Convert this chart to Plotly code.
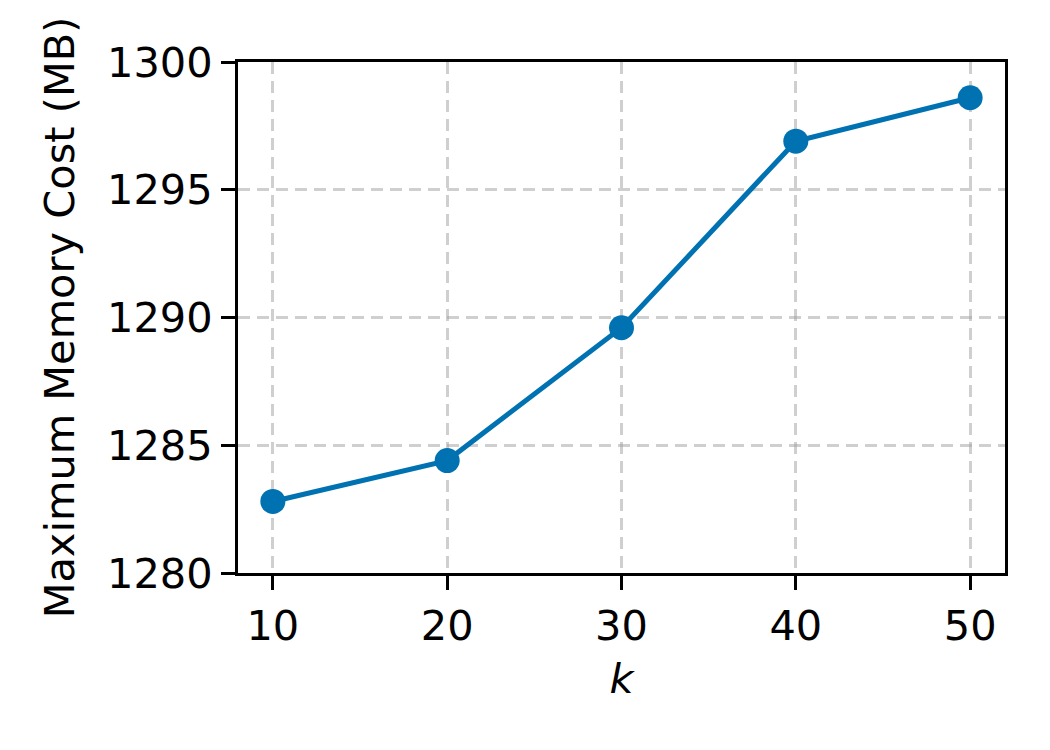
import plotly.graph_objects as go

k_values = [10, 20, 30, 40, 50]
memory_mb = [1282.8, 1284.4, 1289.6, 1296.9, 1298.6]
x_ticks = [10, 20, 30, 40, 50]
y_ticks = [1280, 1285, 1290, 1295, 1300]

FS = 41.5

fig = go.Figure()
fig.add_trace(go.Scatter(
    x=k_values, y=memory_mb, mode="lines+markers",
    line=dict(color="#0072B2", width=5),
    marker=dict(color="#0072B2", size=25),
    showlegend=False,
))

axis_common = dict(
    showline=True, linecolor="black", linewidth=3, mirror=True,
    ticks="outside", ticklen=14, tickwidth=3, tickcolor="black",
    showgrid=True, gridcolor="rgba(160,160,160,0.5)", gridwidth=2.5,
    griddash="12px,7px", zeroline=False,
    tickfont=dict(family="DejaVu Sans", size=FS, color="black"),
)

fig.update_xaxes(range=[8, 52], tickvals=x_ticks, ticktext=[str(v) for v in x_ticks],
                 title=dict(text="<i>k</i>", font=dict(family="DejaVu Sans", size=FS, color="black"), standoff=16),
                 **axis_common)
fig.update_yaxes(range=[1280, 1300], tickvals=y_ticks, ticktext=[str(v) for v in y_ticks],
                 title=dict(text="Maximum Memory Cost (MB)", font=dict(family="DejaVu Sans", size=FS, color="black"), standoff=20),
                 **axis_common)

fig.update_layout(
    width=1050, height=750,
    margin=dict(l=230, r=53, t=54, b=185),
    plot_bgcolor="white", paper_bgcolor="white",
    font=dict(family="DejaVu Sans", color="black"),
)

fig.write_html("out.html")
